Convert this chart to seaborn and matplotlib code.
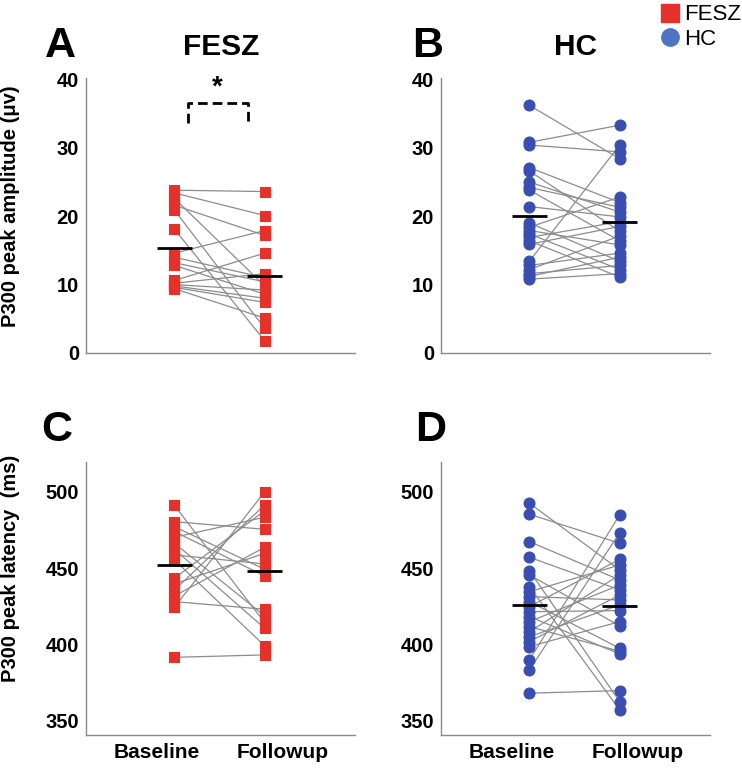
import numpy as np
import pandas as pd
import matplotlib
matplotlib.use("Agg")
import matplotlib.pyplot as plt
import seaborn as sns
from matplotlib.lines import Line2D

# ---------------- data ----------------
sessions = ["Baseline", "Followup"]
groups = ["FESZ", "HC"]
panel_letters = ["A", "B", "C", "D"]

# P300 peak amplitude (uV), paired by subject
fesz_amp_baseline = [23.8, 23.4, 22.6, 21.6, 20.9, 18.1, 14.6, 14.0, 13.2, 12.8, 10.6, 10.2, 10.0, 9.8, 9.6, 9.4]
fesz_amp_followup = [23.6, 20.1, 9.8, 17.2, 3.6, 1.8, 17.9, 11.0, 10.4, 8.6, 14.6, 11.6, 9.2, 8.0, 7.4, 5.1]

hc_amp_baseline = [36.2, 30.8, 30.4, 27.1, 26.6, 25.0, 24.2, 23.8, 21.4, 19.0, 18.4,
                   17.9, 17.4, 16.9, 16.4, 15.9, 13.4, 12.8, 12.2, 11.6, 11.2, 10.8]
hc_amp_followup = [28.4, 33.3, 29.4, 22.0, 17.8, 20.6, 21.3, 16.4, 19.9, 13.4, 22.8,
                   15.8, 12.2, 19.2, 11.1, 18.5, 30.4, 14.6, 17.1, 12.8, 14.0, 11.6]

# P300 peak latency (ms), paired by subject
fesz_lat_baseline = [491.0, 480.4, 477.1, 473.9, 470.2, 466.2, 462.3, 458.6, 455.3, 443.3,
                     439.6, 435.6, 431.7, 428.0, 424.3, 391.5]
fesz_lat_followup = [414.2, 475.4, 449.2, 444.8, 483.3, 418.6, 410.5, 452.7, 399.0, 487.6,
                     459.7, 491.4, 463.6, 423.0, 500.0, 393.1]

hc_lat_baseline = [492.5, 485.3, 467.3, 457.1, 448.3, 445.5, 437.8, 434.5, 431.3, 428.0, 424.7,
                   421.4, 418.2, 414.9, 411.6, 408.3, 405.0, 401.8, 398.5, 389.8, 383.2, 368.0]
hc_lat_followup = [448.8, 466.2, 442.2, 435.7, 362.5, 412.1, 357.0, 452.0, 429.1, 397.4, 455.7,
                   422.1, 393.7, 438.9, 395.5, 445.5, 425.8, 432.4, 414.9, 484.8, 473.2, 369.7]

amp_ticks = [0, 10, 20, 30, 40]
lat_ticks = [350, 400, 450, 500]

# ---------------- style ----------------
sns.set_style("white")
plt.rcParams["font.family"] = ["Liberation Sans", "DejaVu Sans"]
plt.rcParams["text.color"] = "black"
plt.rcParams["axes.labelcolor"] = "black"
plt.rcParams["xtick.color"] = "black"
plt.rcParams["ytick.color"] = "black"

RED = "#e6302a"
BLUE = "#3a4eb2"
LEG_BLUE = "#4f74c6"
GRAY = "#8c8c8c"
SPINE = "#8a8a8a"
XPOS = {"Baseline": 1.14, "Followup": 1.855}


def long_df(base, follow):
    n = len(base)
    df = pd.DataFrame({
        "subject": list(range(n)) * 2,
        "session": ["Baseline"] * n + ["Followup"] * n,
        "value": list(base) + list(follow),
    })
    df["x"] = df["session"].map(XPOS)
    return df


fig = plt.figure(figsize=(7.42, 7.69), dpi=100)
W, H = 742, 769


def pos(l, r, t, b):
    return [l / W, 1 - b / H, (r - l) / W, (b - t) / H]


panels = [
    dict(base=fesz_amp_baseline, fol=fesz_amp_followup, color=RED, marker="s", s=50,
         rect=pos(86, 355, 78, 353), ylim=(0, 40.2), ticks=amp_ticks, grp="FESZ"),
    dict(base=hc_amp_baseline, fol=hc_amp_followup, color=BLUE, marker="o", s=62,
         rect=pos(441, 710, 78, 353), ylim=(0, 40.2), ticks=amp_ticks, grp="HC"),
    dict(base=fesz_lat_baseline, fol=fesz_lat_followup, color=RED, marker="s", s=50,
         rect=pos(86, 355, 462, 735), ylim=(340.6, 519.5), ticks=lat_ticks, grp="FESZ"),
    dict(base=hc_lat_baseline, fol=hc_lat_followup, color=BLUE, marker="o", s=62,
         rect=pos(441, 710, 462, 735), ylim=(340.6, 519.5), ticks=lat_ticks, grp="HC"),
]

axes = []
for i, p in enumerate(panels):
    ax = fig.add_axes(p["rect"])
    axes.append(ax)
    df = long_df(p["base"], p["fol"])
    sns.lineplot(data=df, x="x", y="value", units="subject", estimator=None,
                 color=GRAY, lw=0.9, sort=False, ax=ax, legend=False, zorder=1)
    sns.scatterplot(data=df, x="x", y="value", marker=p["marker"], s=p["s"],
                    color=p["color"], edgecolor=p["color"], linewidth=0.8,
                    ax=ax, legend=False, zorder=3)
    means = df.groupby("session")["value"].mean()
    for sname in sessions:
        xc = XPOS[sname]
        ax.hlines(means[sname], xc - 0.14, xc + 0.14, color="black", lw=2.0, zorder=4)

    ax.set_xlim(0.44, 2.57)
    ax.set_ylim(*p["ylim"])
    ax.set_yticks(p["ticks"])
    ax.set_xticks([1, 2])
    if i >= 2:
        ax.set_xticklabels(sessions, fontsize=15, fontweight="bold", color="black")
    else:
        ax.set_xticklabels([])
    ax.set_yticklabels([str(t) for t in p["ticks"]], fontsize=14.5, fontweight="bold",
                       color="black")
    ax.set_xlabel("")
    ax.set_ylabel("")
    for side in ["top", "right"]:
        ax.spines[side].set_visible(False)
    for side in ["left", "bottom"]:
        ax.spines[side].set_color(SPINE)
        ax.spines[side].set_linewidth(1.0)
    ax.tick_params(direction="in", length=3, width=0.8, color=SPINE,
                   labelcolor="black", pad=5)
    ax.tick_params(axis="x", pad=6)

# y labels
axes[0].set_ylabel("P300 peak amplitude (\u03bcv)", fontsize=14.5, fontweight="bold",
                   color="black")
axes[0].yaxis.set_label_coords(-0.245, 0.535)
axes[2].set_ylabel("P300 peak latency  (ms)", fontsize=14.5, fontweight="bold",
                   color="black")
axes[2].yaxis.set_label_coords(-0.245, 0.61)

# significance bracket on A
axes[0].plot([1.246, 1.246, 1.72, 1.72], [33.6, 36.6, 36.6, 33.6], color="black",
             lw=2.0, ls=(0, (3.5, 1.8)), zorder=5)
axes[0].text(1.483, 36.9, "*", ha="center", va="bottom", fontsize=20, fontweight="bold",
             color="black")

# panel letters and titles
for ax, letter, (lx, ly) in zip(axes, panel_letters,
                                [(60, 46), (428, 46), (57, 430), (431, 430)]):
    fig.text(lx / W, 1 - ly / H, letter, ha="center", va="center",
             fontsize=31, fontweight="bold", color="black")
fig.text(221 / W, 1 - 47 / H, groups[0], ha="center", va="center", fontsize=21.5,
         fontweight="bold", color="black")
fig.text(575 / W, 1 - 47 / H, groups[1], ha="center", va="center", fontsize=21.5,
         fontweight="bold", color="black")

# legend
handles = [Line2D([], [], ls="none", marker="s", color=RED, markersize=12.5),
           Line2D([], [], ls="none", marker="o", color=LEG_BLUE, markersize=12.5)]
leg = fig.legend(handles, groups, loc="upper right", bbox_to_anchor=(1.005, 1.0),
                 frameon=False, fontsize=16, handlelength=0.7, handletextpad=0.3,
                 labelspacing=0.15, borderaxespad=0.1, borderpad=0.1)
for t in leg.get_texts():
    t.set_color("black")

fig.savefig("out.png", dpi=100)
